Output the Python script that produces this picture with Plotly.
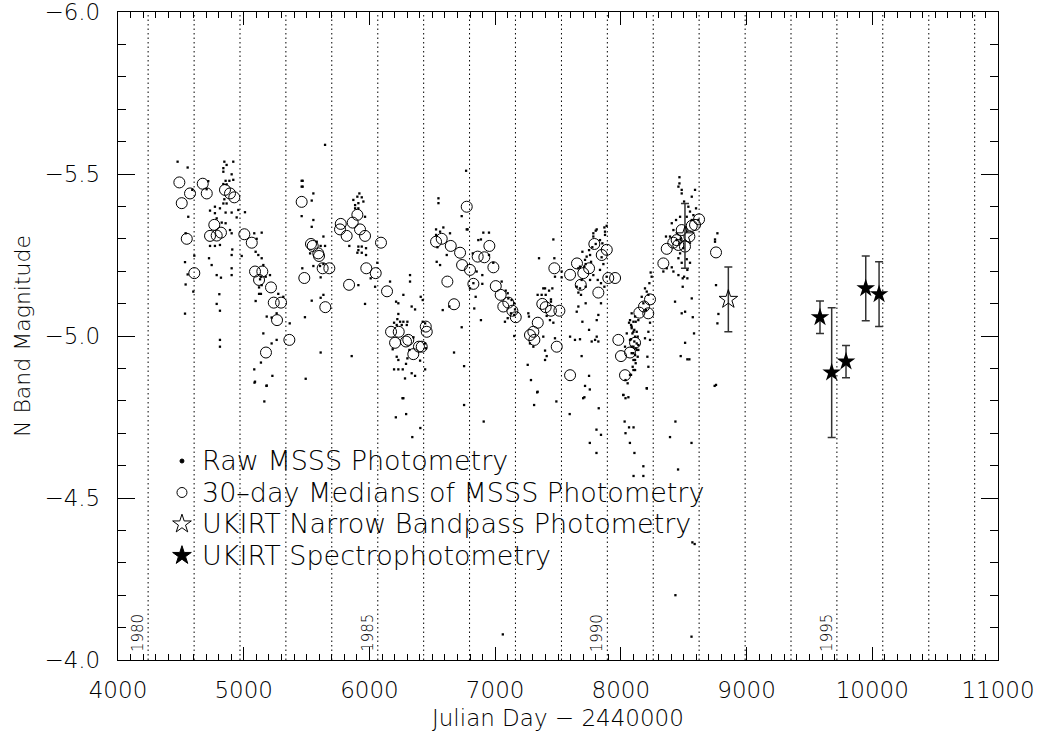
import plotly.graph_objects as go

# ---------------- data ----------------
raw_jd = [
    # 1980-1983
    4474, 4554, 4591, 4559, 4538, 4533, 4538, 4533, 4554, 4607, 4599, 4846, 4917, 4864, 4838, 4838, 4904, 4917,
    4856, 4886, 4838, 4864, 4838, 4864, 4846, 4771, 4732, 4771, 4811, 4856, 4904, 4944, 4957, 5010, 4785, 4825,
    4856, 4891, 4904, 4771, 4732, 4811, 4909, 4904, 4724, 4745, 4785, 4819, 4904, 4904, 4806, 4785, 4811, 4811,
    4811, 4984, 5084, 5143, 5103, 5095, 5116, 5143, 5156, 5137, 5130, 5175, 5209, 5143, 5122, 5122, 5137, 5095,
    5275, 5315, 5262, 5222, 5183, 5156, 5222, 5262, 5137, 5084, 5090, 5183, 5228, 5366, 5461, 5461, 5461, 5466,
    5487, 5493, 4705, 4718,
    # 1984-1986
    5647, 5469, 5469, 5554, 5541, 5554, 5541, 5634, 5612, 5647, 5581, 5554, 5607, 5634, 5612, 5634, 5612, 5541,
    5612, 5920, 5904, 5939, 5872, 5912, 5886, 5952, 5886, 5912, 5965, 5912, 5939, 5912, 5904, 5939, 5973, 5973,
    5840, 5965, 5912, 6010, 5859, 6045, 6063, 6164, 6212, 6230, 6270, 6323, 6323, 6336, 6363, 6230, 6222, 6244,
    6270, 6302, 6297, 6257, 6196, 6217, 6217, 6230, 6196, 6230, 6265, 6302, 6291, 6336, 6363, 6283, 6270, 6185,
    6350, 6318, 6408, 6424, 6424, 6443, 6443, 6450, 6443, 6403, 6549, 6549, 6530, 6562, 6530, 6541, 6535, 6562,
    6615, 6588, 6641, 6583, 6636, 6769, 6734, 6774, 6822, 6827, 6673, 6753, 6734, 5528,
    # 1987-1990
    6781, 6866, 6887, 6906, 6951, 6951, 6985, 6853, 6898, 6800, 6845, 6834, 6887, 6898, 7052, 7084, 7100, 7105,
    7131, 7152, 7158, 7126, 7152, 7100, 7078, 7152, 7264, 7269, 7277, 7304, 7338, 7370, 7402, 7429, 7455, 7383,
    7397, 7444, 7444, 7349, 7463, 7471, 7476, 7410, 7436, 7397, 7397, 7410, 7259, 7285, 7338, 7529, 7529,
    7662, 7675, 7710, 7720, 7715, 7728, 7694, 7755, 7763, 7747, 7773, 7800, 7781, 7781, 7800, 7808, 7834, 7853,
    7874, 7869, 7887, 7874, 7847, 7861, 7834, 7816, 7842, 7781, 7755, 7720, 7688, 7675, 7662,
    7649, 7683, 7649, 7694, 7662, 7720, 7747, 7768, 7795, 7821, 7808, 7821, 7808, 7842, 7869, 7887, 7747, 7715,
    7710, 7688, 7596, 7635, 7675, 7463, 7476, 7383,
    8065, 8081, 8100, 8118, 8086, 8107, 8126, 8092, 8113, 8134, 8081, 8107, 8126, 8100, 8118, 8139, 8086, 8113,
    8134, 8100, 8118, 8100, 8081, 8054, 8020, 8060, 8086, 8113, 8139, 8047, 8033,
    # 1991-1992
    8073, 8086, 8100, 8073, 8086, 8100, 8113, 8126, 8139, 8094, 8113, 8073,
    8166, 8192, 8206, 8219, 8179, 8200, 8232, 8219, 8192, 8232, 8211, 8206, 8219, 8237, 8245, 8227,
    8466, 8466, 8484, 8458, 8484, 8503, 8537, 8564, 8590, 8524, 8471, 8439, 8405, 8418, 8391, 8359, 8444, 8476,
    8497, 8471, 8458, 8484, 8524, 8550, 8529, 8503, 8458, 8418, 8405, 8365, 8338, 8564, 8577, 8550, 8492, 8529,
    8492, 8431, 8484, 8511, 8572, 8564, 8582, 8511, 8476, 8529, 8545, 8757, 8768, 8749, 8749, 8757, 8776, 8768,
    8617, 8598,
    # faint lower points
    5086, 5181, 5164, 6263, 6210, 6292, 6405, 6341, 6753, 6909, 7334, 7310, 7487, 7593, 7700, 7753, 7824, 7806,
    7842, 7753, 7806, 8037, 8019, 8037, 8030, 8065, 8101, 8037, 8072, 8108, 8207, 8179, 8101, 8179, 8434, 8391,
    8455, 8562, 8569, 8587, 8746, 8434, 8562, 7061,
]
raw_mag = [
    -5.538, -5.520, -5.451, -5.368, -5.317, -5.228, -5.159, -5.069, -5.190, -5.248, -5.137, -5.538, -5.538, -5.528,
    -5.518, -5.507, -5.499, -5.482, -5.479, -5.479, -5.469, -5.468, -5.409, -5.409, -5.422, -5.399, -5.387, -5.379,
    -5.394, -5.381, -5.381, -5.366, -5.389, -5.382, -5.363, -5.350, -5.348, -5.327, -5.317, -5.278, -5.278, -5.281,
    -5.267, -5.250, -5.240, -5.219, -5.188, -5.180, -5.209, -5.188, -5.129, -5.099, -5.078, -4.988, -4.967, -5.247,
    -5.317, -5.319, -5.300, -5.260, -5.250, -5.240, -5.219, -5.183, -5.175, -5.183, -5.188, -5.157, -5.150, -5.130,
    -5.130, -5.108, -5.130, -5.121, -5.070, -5.057, -5.060, -5.008, -4.977, -4.988, -4.918, -4.897, -4.859, -4.847,
    -4.877, -5.039, -5.479, -5.461, -5.370, -5.209, -5.058, -4.868, -5.453, -5.478,
    -5.590, -5.479, -5.461, -5.440, -5.418, -5.358, -5.337, -5.307, -5.278, -5.278, -5.291, -5.216, -5.216, -5.222,
    -5.181, -5.127, -5.118, -5.109, -4.949, -5.440, -5.430, -5.428, -5.420, -5.410, -5.404, -5.415, -5.394, -5.394,
    -5.368, -5.276, -5.276, -5.265, -5.257, -5.257, -5.271, -5.250, -5.278, -5.099, -5.157, -5.178, -4.938, -5.152,
    -5.226, -5.168, -5.106, -5.101, -5.127, -5.188, -5.168, -5.091, -5.082, -5.068, -5.052, -5.044, -5.044, -5.044,
    -5.034, -5.034, -5.041, -5.034, -4.936, -4.926, -4.897, -4.897, -4.897, -4.931, -4.914, -4.885, -4.877, -4.869,
    -4.808, -4.959, -4.996, -4.957, -5.121, -5.111, -5.044, -5.039, -4.977, -4.962, -4.897, -4.924, -5.425, -5.410,
    -5.329, -5.322, -5.312, -5.274, -5.229, -5.219, -5.250, -5.335, -5.317, -5.080, -5.091, -5.510, -5.370, -5.329,
    -5.255, -5.163, -4.949, -4.907, -5.027, -5.255,
    -5.329, -5.296, -5.298, -5.319, -5.319, -5.250, -5.226, -5.199, -5.188, -5.147, -5.121, -5.085, -5.049, -5.161,
    -5.168, -5.140, -5.132, -5.116, -5.111, -5.101, -5.082, -5.070, -5.065, -5.055, -5.044, -5.000, -5.070, -5.060,
    -4.977, -4.967, -5.127, -5.127, -5.127, -5.140, -5.147, -5.147, -5.147, -5.113, -5.106, -5.240, -5.298, -5.240,
    -5.183, -5.062, -5.049, -4.955, -4.926, -4.938, -4.911, -4.864, -4.828, -5.199, -5.181,
    -5.209, -5.214, -5.214, -5.222, -5.235, -5.245, -5.260, -5.250, -5.229, -5.265, -5.274, -5.284, -5.307, -5.317,
    -5.325, -5.329, -5.296, -5.286, -5.312, -5.335, -5.340, -5.322, -5.243, -5.222, -5.204, -5.173, -5.163, -5.188,
    -5.173, -5.152, -5.173, -5.147, -5.134,
    -5.152, -5.127, -5.075, -5.044, -5.091, -5.101, -5.019, -4.983, -4.988, -4.983, -4.998, -5.065, -5.049, -5.101,
    -5.152, -5.183, -4.877, -4.846, -4.811, -4.938, -4.998, -4.988, -4.990, -5.041, -4.993, -4.998,
    -5.041, -5.034, -5.044, -5.044, -5.024, -5.019, -5.013, -5.008, -4.998, -4.998, -4.990, -4.983, -4.977, -4.967,
    -4.962, -4.957, -4.947, -4.941, -4.936, -4.926, -4.916, -4.895, -4.880, -4.854, -4.818, -4.811, -5.070, -5.060,
    -5.049, -5.008, -4.967,
    -5.049, -5.029, -5.013, -4.988, -4.967, -4.947, -4.926, -4.957, -4.972, -4.905, -4.895, -4.880,
    -5.121, -5.147, -5.137, -5.127, -5.101, -5.080, -5.041, -5.013, -4.993, -4.988, -4.936, -4.839, -4.905, -5.196,
    -5.183, -5.163,
    -5.490, -5.471, -5.451, -5.461, -5.440, -5.415, -5.399, -5.430, -5.451, -5.368, -5.368, -5.358, -5.348, -5.327,
    -5.307, -5.307, -5.296, -5.301, -5.271, -5.255, -5.240, -5.226, -5.237, -5.226, -5.204, -5.183, -5.188, -5.199,
    -5.212, -5.209, -5.199, -5.358, -5.373, -5.384, -5.178, -5.178, -5.152, -5.106, -5.070, -5.075, -5.058, -5.116,
    -5.008, -4.979, -4.938, -4.928, -4.928, -4.849, -5.317, -5.298, -5.291, -5.157, -5.068, -5.039, -5.358, -5.394,
    -4.856, -4.846, -4.798, -4.808, -4.749, -4.759, -4.716, -4.688, -4.787, -4.736, -4.826, -4.787, -4.798, -4.759,
    -4.808, -4.835, -4.777, -4.711, -4.695, -4.670, -4.639, -4.864, -4.818, -4.808, -4.736, -4.718, -4.718, -4.700,
    -4.670, -4.639, -4.838, -4.598, -4.568, -4.568, -4.736, -4.688, -4.588, -4.670, -4.363, -4.358, -4.846, -4.200,
    -4.072, -4.079,
]

med_jd = [
    4488, 4573, 4507, 4547, 4607, 4674, 4706, 4851, 4891, 4925, 4766, 4732, 4785, 4819, 5005, 5064, 5090, 5148,
    5122, 5217, 5239, 5297, 5265, 5363, 5177, 5461, 5482,
    5535, 5549, 5593, 5599, 5628, 5681, 5649, 5772, 5766, 5819, 5867, 5904, 5925, 5965, 5838, 5975, 6050, 6092,
    6140, 6172, 6233, 6204, 6291, 6309, 6349, 6394, 6416, 6448, 6456, 6530, 6575, 6647, 6721, 6774, 6737, 6800,
    6620, 6673, 6827,
    6954, 6861, 6914, 6986, 7005, 7044, 7105, 7065, 7137, 7164, 7375, 7402, 7444, 7511, 7339, 7277, 7304, 7312,
    7490, 7596, 7471, 7596, 7651, 7681, 7701, 7747, 7789, 7848, 7888, 7900, 7954, 7821, 7980, 8001, 8033, 8073,
    8113,
    8232, 8184, 8147, 8218, 8338, 8365, 8417, 8444, 8457, 8484, 8510, 8545, 8564, 8590, 8622, 8757,
]
med_mag = [
    -5.474, -5.440, -5.410, -5.300, -5.194, -5.470, -5.440, -5.451, -5.440, -5.428, -5.343, -5.309, -5.310, -5.319,
    -5.314, -5.288, -5.199, -5.199, -5.173, -5.150, -5.103, -5.103, -5.049, -4.988, -4.949, -5.414, -5.179,
    -5.284, -5.278, -5.255, -5.247, -5.209, -5.209, -5.089, -5.346, -5.329, -5.309, -5.350, -5.374, -5.329, -5.309,
    -5.158, -5.209, -5.194, -5.288, -5.138, -5.013, -5.013, -4.979, -4.983, -4.988, -4.944, -4.967, -4.967, -5.029,
    -5.013, -5.291, -5.300, -5.278, -5.257, -5.399, -5.219, -5.204, -5.168, -5.098, -5.161,
    -5.278, -5.245, -5.243, -5.212, -5.154, -5.127, -5.103, -5.091, -5.078, -5.058, -5.099, -5.089, -5.078, -5.078,
    -5.041, -5.003, -5.013, -4.988, -4.967, -4.879, -5.209, -5.189, -5.224, -5.158, -5.194, -5.209, -5.284, -5.250,
    -5.266, -5.179, -5.179, -5.134, -4.988, -4.938, -4.879, -4.949, -4.979,
    -5.113, -5.091, -5.072, -5.070, -5.224, -5.269, -5.288, -5.296, -5.281, -5.327, -5.276, -5.307, -5.340, -5.343,
    -5.360, -5.258,
]

nb_jd = [8510, 8855]
nb_mag = [-5.309, -5.113]
nb_err = [0.10, 0.10]

sp_jd = [9584, 9677, 9791, 9948, 10054]
sp_mag = [-5.058, -4.887, -4.921, -5.147, -5.129]
sp_err = [0.05, 0.20, 0.05, 0.10, 0.10]

year_starts = [4239.5, 4605.5, 4970.5, 5335.5, 5700.5, 6066.5, 6431.5, 6796.5, 7161.5, 7527.5,
               7892.5, 8257.5, 8622.5, 8988.5, 9353.5, 9718.5, 10083.5, 10449.5, 10814.5]
year_labels = {"1980": 4239.5, "1985": 6066.5, "1990": 7892.5, "1995": 9718.5}

legend_names = ["Raw MSSS Photometry", "30–day Medians of MSSS Photometry",
                "UKIRT Narrow Bandpass Photometry", "UKIRT Spectrophotometry"]

FONT = "DejaVu Sans"
W = 200

fig = go.Figure()

fig.add_trace(go.Scatter(x=med_jd, y=med_mag, mode="markers", showlegend=False,
                         marker=dict(symbol="circle-open", size=11, color="black", line=dict(width=1))))
fig.add_trace(go.Scatter(x=raw_jd, y=raw_mag, mode="markers", showlegend=False,
                         marker=dict(symbol="square", size=2.3, color="black", line=dict(width=0))))
fig.add_trace(go.Scatter(x=nb_jd, y=nb_mag, mode="markers", showlegend=False,
                         error_y=dict(type="data", array=nb_err, color="#333", thickness=1.5, width=4),
                         marker=dict(symbol="star-open", size=14, color="black", line=dict(width=1))))
fig.add_trace(go.Scatter(x=sp_jd, y=sp_mag, mode="markers", showlegend=False,
                         error_y=dict(type="data", array=sp_err, color="#333", thickness=1.5, width=4),
                         marker=dict(symbol="star", size=14, color="black", line=dict(width=0))))

# legend symbols on an overlay axis (paper-like 0..1)
leg_y = [0.3071, 0.2585, 0.2099, 0.1613]
leg_sym = ["circle", "circle-open", "star-open", "star"]
leg_size = [4, 10, 14, 14]
for yy, sym, sz in zip(leg_y, leg_sym, leg_size):
    fig.add_trace(go.Scatter(x=[0.0727], y=[yy], xaxis="x2", yaxis="y2", mode="markers", showlegend=False,
                             marker=dict(symbol=sym, size=sz, color="black", line=dict(width=1, color="black"))))
for yy, name in zip(leg_y, legend_names):
    fig.add_annotation(x=0.0932, y=yy, xref="paper", yref="paper", text=name, showarrow=False,
                       xanchor="left", yanchor="middle",
                       font=dict(family=FONT, size=27, color="black", weight=W))

for xs in year_starts:
    fig.add_shape(type="line", x0=xs, x1=xs, y0=0, y1=1, xref="x", yref="paper",
                  line=dict(color="black", width=1, dash="1.5px,3px"), layer="below")

for lab, xs in year_labels.items():
    fig.add_annotation(x=xs, y=-4.0, xref="x", yref="y", text=lab, showarrow=False, textangle=-90,
                       xanchor="right", yanchor="bottom", xshift=1, yshift=6,
                       font=dict(family=FONT, size=15, color="black", weight=W))

# axis titles as annotations (fixed positions like the reference)
fig.add_annotation(x=0.5, y=0, xref="paper", yref="paper", text="Julian Day − 2440000", showarrow=False,
                   xanchor="center", yanchor="middle", yshift=-58,
                   font=dict(family=FONT, size=23, color="black", weight=W))
fig.add_annotation(x=0, y=0.5, xref="paper", yref="paper", text="N Band Magnitude", showarrow=False,
                   textangle=-90, xanchor="center", yanchor="middle", xshift=-96,
                   font=dict(family=FONT, size=22, color="black", weight=W))

axis_common = dict(showline=True, linecolor="black", linewidth=1.3, mirror="allticks", ticks="inside",
                   tickcolor="black", showgrid=False, zeroline=False, automargin=False,
                   ticklabeloverflow="allow",
                   tickfont=dict(family=FONT, size=23, color="black", weight=W))

fig.update_layout(
    width=1037, height=732,
    margin=dict(l=118, r=39, t=12, b=72),
    paper_bgcolor="white", plot_bgcolor="white",
    showlegend=False,
    xaxis=dict(range=[4000, 11000], dtick=1000, tick0=4000, tickformat="d", ticklen=13, tickwidth=1.2,
               minor=dict(dtick=100, ticklen=6, ticks="inside", tickcolor="black", tickwidth=1),
               ticklabelstandoff=9,
               **axis_common),
    yaxis=dict(range=[-4.0, -6.0], dtick=0.5, tick0=-6.0, tickformat=".1f", ticklen=17, tickwidth=1.2,
               minor=dict(dtick=0.1, ticklen=8, ticks="inside", tickcolor="black", tickwidth=1),
               ticklabelstandoff=12,
               **axis_common),
    xaxis2=dict(overlaying="x", range=[0, 1], visible=False, fixedrange=True),
    yaxis2=dict(overlaying="y", range=[0, 1], visible=False, fixedrange=True),
)

fig.write_html("out.html")
